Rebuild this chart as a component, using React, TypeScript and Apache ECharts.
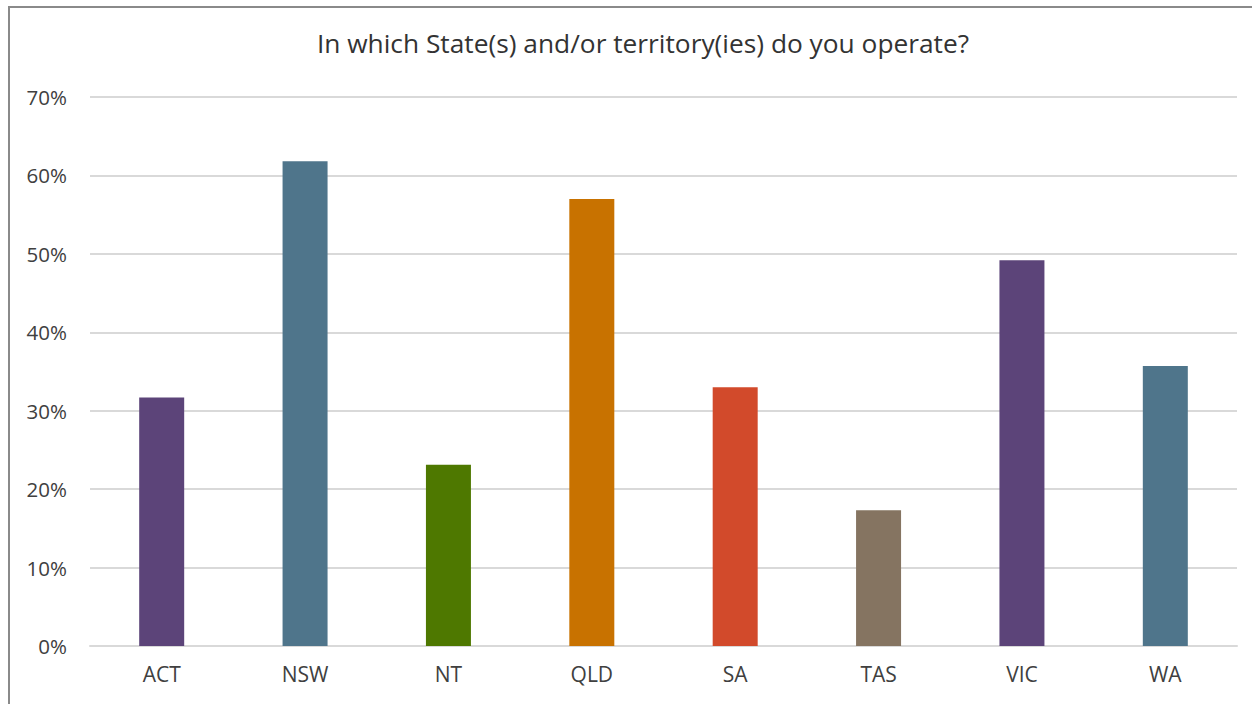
import React, { useEffect, useRef } from "react";
import * as echarts from "echarts";

const categories = ["ACT", "NSW", "NT", "QLD", "SA", "TAS", "VIC", "WA"];
const values = [0.317, 0.618, 0.231, 0.57, 0.33, 0.173, 0.492, 0.357];
const colors = ["#5c4479", "#4f758b", "#4e7800", "#c87200", "#d24a2b", "#857461", "#5c4479", "#4f758b"];
const titleText = "In which State(s) and/or territory(ies) do you operate?";

export default function App() {
  const ref = useRef<HTMLDivElement>(null);
  useEffect(() => {
    const chart = echarts.init(ref.current!, null, { renderer: "svg" });
    chart.setOption({
      animation: false,
      title: {
        text: titleText,
        left: 638,
        textAlign: "center",
        top: 25,
        textStyle: { fontFamily: "Open Sans", fontSize: 26.3, fontWeight: "normal", color: "#333333" },
      },
      grid: { left: 90, right: 15, top: 97, bottom: 58 },
      xAxis: {
        type: "category",
        data: categories,
        axisLine: { lineStyle: { color: "#d9d9d9", width: 2 } },
        axisTick: { show: false },
        axisLabel: { fontFamily: "Open Sans", fontSize: 21, color: "#404040", margin: 17 },
      },
      yAxis: {
        type: "value",
        min: 0,
        max: 0.7,
        interval: 0.1,
        axisLine: { show: false },
        axisTick: { show: false },
        splitLine: { lineStyle: { color: "#d9d9d9", width: 2 } },
        axisLabel: {
          fontFamily: "Open Sans",
          fontSize: 20.5,
          color: "#404040",
          margin: 23,
          formatter: (v: number) => Math.round(v * 100) + "%",
        },
      },
      series: [
        {
          type: "bar",
          data: values.map((v, i) => ({ value: v, itemStyle: { color: colors[i] } })),
          barWidth: 45,
        },
      ],
    });
    return () => chart.dispose();
  }, []);
  return (
    <>
      <div
        style={{
          position: "absolute",
          left: 8,
          top: 6,
          width: 1244,
          height: 698,
          borderLeft: "2px solid #8a8a8a",
          borderTop: "2px solid #8a8a8a",
          boxSizing: "border-box",
        }}
      />
      <div ref={ref} style={{ position: "absolute", left: 0, top: 0, width: 1252, height: 704 }} />
    </>
  );
}
